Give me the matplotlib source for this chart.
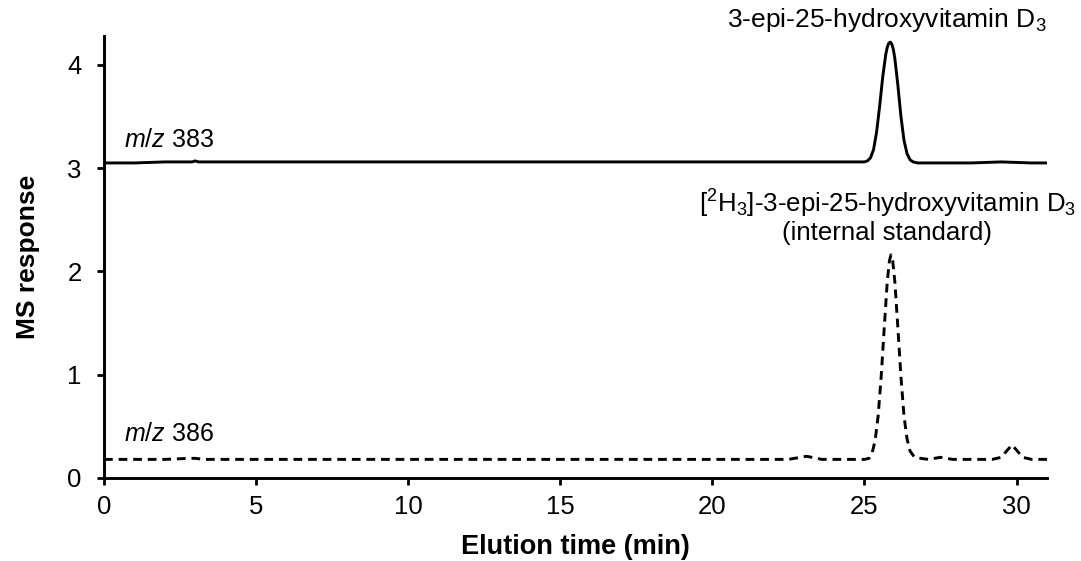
import matplotlib
matplotlib.use("Agg")
import matplotlib.pyplot as plt

plt.rcParams['font.family'] = ['Liberation Sans', 'DejaVu Sans']
plt.rcParams['mathtext.fontset'] = 'custom'
plt.rcParams['mathtext.rm'] = 'Liberation Sans'
plt.rcParams['mathtext.it'] = 'Liberation Sans:italic'
plt.rcParams['mathtext.bf'] = 'Liberation Sans:bold'

# m/z 383 trace (analyte)
t383 = [0.0, 1.0, 2.0, 2.9, 3.0, 3.1, 5.0, 8.0, 12.0, 16.0, 20.0, 23.0, 24.5, 25.0, 25.1, 25.2, 25.3,
        25.4, 25.5, 25.6, 25.7, 25.75, 25.8, 25.85, 25.9, 25.95, 26.0, 26.1, 26.2, 26.3,
        26.4, 26.5, 26.6, 26.75, 27.0, 27.5, 28.5, 29.5, 30.5, 31.0]
y383 = [3.05, 3.05, 3.06, 3.06, 3.07, 3.06, 3.06, 3.06, 3.06, 3.06, 3.06, 3.06, 3.06, 3.06, 3.07, 3.10, 3.18,
        3.35, 3.60, 3.88, 4.10, 4.17, 4.21, 4.22, 4.20, 4.15, 4.06, 3.80, 3.50, 3.27,
        3.14, 3.08, 3.06, 3.05, 3.05, 3.05, 3.05, 3.06, 3.05, 3.05]

# m/z 386 trace (internal standard)
t386 = [0.0, 1.0, 2.0, 2.8, 3.0, 3.3, 5.0, 8.0, 12.0, 16.0, 20.0, 22.5, 23.1, 23.6, 24.5, 25.0,
        25.15, 25.25, 25.35, 25.45, 25.55, 25.65, 25.75, 25.82, 25.87, 25.93, 26.0, 26.1, 26.2,
        26.3, 26.4, 26.5, 26.65, 26.85, 27.1, 27.5, 27.9, 28.5, 29.2, 29.5, 29.7, 29.85, 30.0,
        30.2, 30.5, 31.0]
y386 = [0.18, 0.18, 0.18, 0.19, 0.19, 0.18, 0.18, 0.18, 0.18, 0.18, 0.18, 0.18, 0.21, 0.18, 0.18, 0.18,
        0.19, 0.24, 0.36, 0.60, 0.98, 1.45, 1.90, 2.10, 2.16, 2.10, 1.90, 1.45, 0.98,
        0.60, 0.38, 0.26, 0.20, 0.19, 0.18, 0.20, 0.18, 0.18, 0.18, 0.20, 0.27, 0.32, 0.27,
        0.20, 0.18, 0.18]

xticks = [0, 5, 10, 15, 20, 25, 30]
yticks = [0, 1, 2, 3, 4]

fig = plt.figure(figsize=(10.81, 5.61), dpi=100)
ax = fig.add_axes([0.0962, 0.148, 0.8723, 0.788])

ax.plot(t383, y383, color='black', lw=2.1, solid_joinstyle='round')
ax.plot(t386, y386, color='black', lw=2.1, dashes=(3.0, 2.0))

ax.set_xlim(0, 31)
ax.set_ylim(0, 4.28)
ax.set_xticks(xticks)
ax.set_yticks(yticks)
ax.tick_params(axis='both', direction='out', length=5, width=2, labelsize=18.5)
ax.tick_params(axis='x', pad=7)
ax.tick_params(axis='y', pad=11)
for s in ['top', 'right']:
    ax.spines[s].set_visible(False)
for s in ['left', 'bottom']:
    ax.spines[s].set_linewidth(2.1)

ax.set_xlabel('Elution time (min)', fontsize=19.5, fontweight='bold', labelpad=11)
ax.set_ylabel('MS response', fontsize=19, fontweight='bold', labelpad=20)

ax.text(0.65, 3.27, r'$m/z$ 383', fontsize=18, ha='left', va='center')
ax.text(0.65, 0.43, r'$m/z$ 386', fontsize=18, ha='left', va='center')

ax.text(25.75, 4.37, '3-epi-25-hydroxyvitamin D$_3$', fontsize=19, ha='center', va='baseline',
        clip_on=False)
ax.text(25.75, 2.57, '[$^2$H$_3$]-3-epi-25-hydroxyvitamin D$_3$', fontsize=18.6, ha='center',
        va='baseline')
ax.text(25.75, 2.305, '(internal standard)', fontsize=18.6, ha='center', va='baseline')

fig.savefig('out.png', dpi=100)
